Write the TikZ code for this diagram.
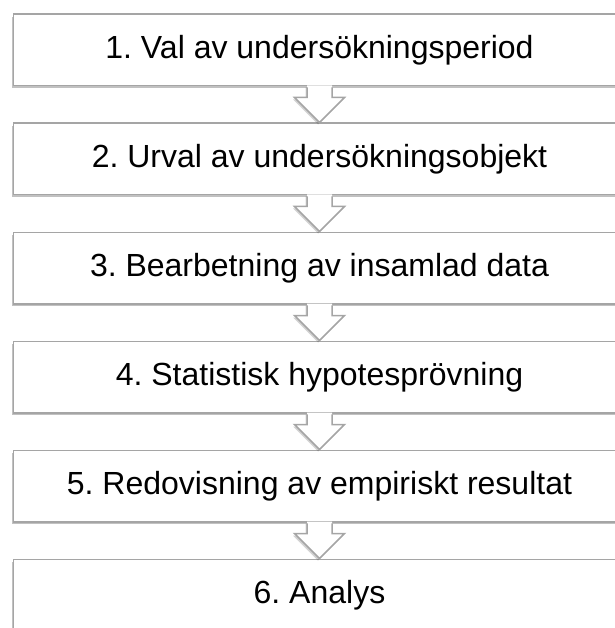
\documentclass[tikz,border=0pt]{standalone}
\usepackage{fontspec}
\setmainfont{Liberation Sans}
\usetikzlibrary{calc,shadows}
\definecolor{boxgray}{HTML}{A5A5A5}
\frenchspacing
\tikzset{
  stepbox/.style={draw=boxgray, line width=1.5pt, fill=white,
    minimum width=612.5pt, minimum height=71.5pt, anchor=north west,
    inner sep=0pt, font=\fontsize{32}{38}\selectfont,
    drop shadow={shadow xshift=-1.5pt, shadow yshift=-2.5pt, opacity=0.35, fill=black!70}},
  arrowfill/.style={fill=white, drop shadow={shadow xshift=-1.5pt, shadow yshift=-2pt, opacity=0.25, fill=black!70}},
  arrowline/.style={draw=boxgray, line width=1.5pt, line join=miter}
}
\newcommand{\downarrowbetween}[2]{%
  \fill[arrowfill] ($(#1.south)+(-12.5,-1)$) -- ($(#1.south)+(-12.5,11)$) -- ($(#1.south)+(-25,11)$)
     -- (#2.north) -- ($(#1.south)+(25,11)$) -- ($(#1.south)+(12.5,11)$) -- ($(#1.south)+(12.5,-1)$) -- cycle;
  \draw[arrowline] ($(#1.south)+(-12.5,0.8)$) -- ($(#1.south)+(-12.5,11)$) -- ($(#1.south)+(-25,11)$)
     -- (#2.north) -- ($(#1.south)+(25,11)$) -- ($(#1.south)+(12.5,11)$) -- ($(#1.south)+(12.5,0.8)$);
}
\begin{document}
\begin{tikzpicture}[x=1pt,y=-1pt]
\useasboundingbox (0,0) rectangle (614,628);
\node[stepbox] (b1) at (12.5,13.5) {1. Val av undersökningsperiod};
\node[stepbox] (b2) at (12.5,122.5) {2. Urval av undersökningsobjekt};
\node[stepbox] (b3) at (12.5,231.5) {3. Bearbetning av insamlad data};
\node[stepbox] (b4) at (12.5,340.5) {4. Statistisk hypotesprövning};
\node[stepbox] (b5) at (12.5,449.5) {5. Redovisning av empiriskt resultat};
\node[stepbox] (b6) at (12.5,558.5) {6. Analys};
\downarrowbetween{b1}{b2}
\downarrowbetween{b2}{b3}
\downarrowbetween{b3}{b4}
\downarrowbetween{b4}{b5}
\downarrowbetween{b5}{b6}
\end{tikzpicture}
\end{document}
